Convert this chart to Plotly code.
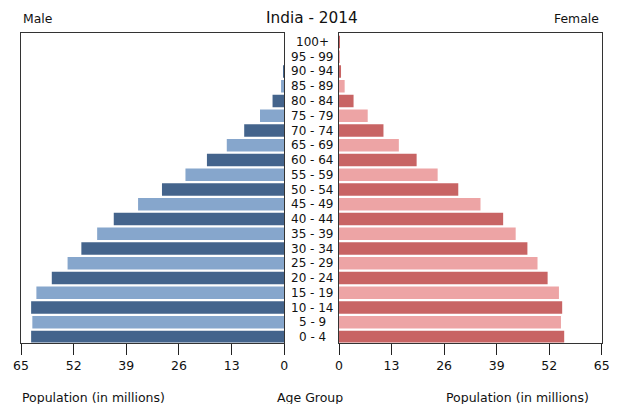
import plotly.graph_objects as go

age_groups = ["0 - 4", "5 - 9", "10 - 14", "15 - 19", "20 - 24", "25 - 29", "30 - 34",
              "35 - 39", "40 - 44", "45 - 49", "50 - 54", "55 - 59", "60 - 64", "65 - 69",
              "70 - 74", "75 - 79", "80 - 84", "85 - 89", "90 - 94", "95 - 99", "100+"]
male = [62.5, 62.2, 62.5, 61.2, 57.4, 53.5, 50.1, 46.2, 42.1, 36.1, 30.2, 24.4, 19.1,
        14.2, 9.9, 6.0, 2.9, 0.8, 0.2, 0.05, 0.02]
female = [55.7, 54.9, 55.2, 54.4, 51.6, 49.1, 46.6, 43.7, 40.6, 35.0, 29.5, 24.4, 19.2,
          14.8, 11.0, 7.1, 3.6, 1.4, 0.5, 0.1, 0.05]
tick_vals = [0, 13, 26, 39, 52, 65]

W, H = 629, 404
male_cols = ["#44648c" if i % 2 == 0 else "#86a6cc" for i in range(len(age_groups))]
female_cols = ["#c86464" if i % 2 == 0 else "#eda4a5" for i in range(len(age_groups))]

fig = go.Figure()
fig.add_trace(go.Bar(y=age_groups, x=male, orientation="h", xaxis="x", yaxis="y",
                     marker=dict(color=male_cols, line=dict(width=0)), showlegend=False))
fig.add_trace(go.Bar(y=age_groups, x=female, orientation="h", xaxis="x2", yaxis="y2",
                     marker=dict(color=female_cols, line=dict(width=0)), showlegend=False))

font = "DejaVu Sans"
ydom = [1 - 342.5 / H, 1 - 32.5 / H]
yrange = [-0.373, len(age_groups) - 1 + 0.644]
axis_common = dict(tickvals=tick_vals, ticks="outside", ticklen=11, tickcolor="#222",
                   showline=True, linecolor="#333", linewidth=1, mirror=True,
                   showgrid=False, zeroline=False, automargin=False,
                   tickfont=dict(family=font, size=12.5, color="#111"))
yaxis_common = dict(showticklabels=False, ticks="", showgrid=False, automargin=False,
                    zeroline=False, showline=True, linecolor="#333", mirror=True,
                    categoryorder="array", categoryarray=age_groups, range=yrange)
fig.update_layout(
    template="none",
    width=W, height=H, autosize=False,
    margin=dict(l=0, r=0, t=0, b=0, pad=0),
    paper_bgcolor="white", plot_bgcolor="white",
    bargap=0.146,
    xaxis=dict(domain=[21 / W, 284.3 / W], range=[65, 0], anchor="y", **axis_common),
    xaxis2=dict(domain=[339 / W, 601.8 / W], range=[0, 65], anchor="y2", **axis_common),
    yaxis=dict(domain=ydom, anchor="x", **yaxis_common),
    yaxis2=dict(domain=ydom, anchor="x2", **yaxis_common),
)

for ag in age_groups:
    fig.add_annotation(x=312 / W, xref="paper", y=ag, yref="y", text=ag, showarrow=False,
                       xanchor="center", yanchor="middle",
                       font=dict(family=font, size=12, color="#111"))

texts = [
    ("India - 2014", 312, 17.5, "center", 15.3),
    ("Male", 21, 18.3, "left", 12.4),
    ("Female", 601, 18.3, "right", 12.4),
    ("Population (in millions)", 20, 397, "left", 12.5),
    ("Age Group", 310, 397, "center", 12.5),
    ("Population (in millions)", 591, 397, "right", 12.5),
]
for t, px, py, anc, sz in texts:
    fig.add_annotation(x=px / W, y=1 - py / H, xref="paper", yref="paper", text=t,
                       showarrow=False, xanchor=anc, yanchor="middle",
                       font=dict(family=font, size=sz, color="#111"))

fig.write_html("out.html", config={"displayModeBar": False},
               post_script="document.body.style.margin='0';document.body.style.overflow='hidden';")
